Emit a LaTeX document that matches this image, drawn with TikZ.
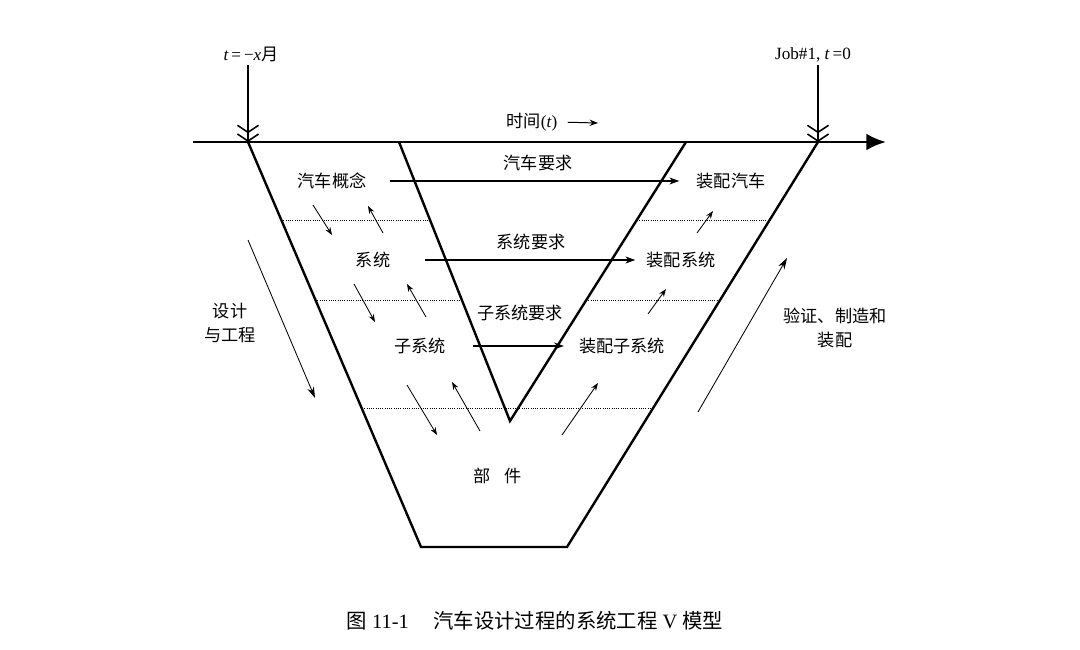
\documentclass[tikz,border=0pt]{standalone}
\usepackage{fontspec}
\setmainfont{Liberation Serif}
\newfontfamily\cjk{Noto Sans CJK SC}
\usetikzlibrary{arrows.meta}

\begin{document}
\begin{tikzpicture}[x=0.025cm, y=-0.025cm,
    every node/.style={inner sep=0pt, font=\fontsize{12.2}{17.5}\selectfont},
    vline/.style={line width=1.7pt, line join=miter},
    dotline/.style={densely dotted, line width=0.6pt},
    harr/.style={line width=0.8pt, -{Stealth[length=7pt,width=5pt]}},
    sarr/.style={line width=0.6pt, -{Stealth[length=5.5pt,width=4pt]}},
    barr/.style={line width=0.6pt, -{Stealth[length=8pt,width=5pt]}},
    dblarr/.style={line width=1.1pt, shorten <=2pt,
      -{Straight Barb[length=5pt,width=15pt]Straight Barb[length=5pt,width=15pt]}}]
  \useasboundingbox (0,0) rectangle (1080,650);
  % time axis and the two V outlines
  \coordinate (axL) at (193,142);
  \coordinate (axR) at (886,142);
  \coordinate (oL) at (248,142);
  \coordinate (oBL) at (421,547);
  \coordinate (oBR) at (567,547);
  \coordinate (oR) at (818,142);
  \coordinate (iL) at (399,142);
  \coordinate (iB) at (510,421);
  \coordinate (iR) at (686,142);
  \draw[line width=2pt, -{Latex[length=14pt,width=12pt]}] (axL) -- (axR);
  \draw[vline] (oL) -- (oBL) -- (oBR) -- (oR);
  \draw[vline] (iL) -- (iB) -- (iR);

  % level boundaries
  \draw[dotline] (281,220) -- (430,220);
  \draw[dotline] (637,220) -- (770,220);
  \draw[dotline] (315,300) -- (462,300);
  \draw[dotline] (586,300) -- (720,300);
  \draw[dotline] (362,408) -- (653,408);

  % milestones
  \node (tstart) at (251,54) {\textit{t}\,=\,−\textit{x}{\cjk 月}};
  \node (tjob) at (813,55) {Job\#1, \textit{t}\,=0};
  \draw[dblarr] (tstart.south -| oL) -- (oL);
  \draw[dblarr] (tjob.south -| oR) -- (oR);
  \node (time) at (532,122) {{\cjk 时间}(\textit{t})};
  \coordinate (timeend) at (598,123);
  \draw[line width=0.7pt, -{Stealth[length=6pt,width=4.5pt]}, shorten <=7pt] (time.east) -- (timeend);

  % left branch
  \node (car) at (332,181) {\cjk 汽车概念};
  \node (sys) at (373,260) {\cjk 系统};
  \node (sub) at (420,346) {\cjk 子系统};
  \node (part) at (498,476) {\cjk 部\hspace{0.8em}件};
  % right branch
  \node (acar) at (731,181) {\cjk 装配汽车};
  \node (asys) at (681,260) {\cjk 装配系统};
  \node (asub) at (622,346) {\cjk 装配子系统};
  % requirements
  \node (rcar) at (538,163) {\cjk 汽车要求};
  \node (rsys) at (531,242) {\cjk 系统要求};
  \node (rsub) at (520,313) {\cjk 子系统要求};
  \draw[harr, shorten <=0.575cm, shorten >=0.43cm] (car) -- (acar);
  \draw[harr, shorten <=0.875cm, shorten >=0.28cm] (sys) -- (asys);
  \draw[harr, shorten <=0.675cm, shorten >=0.375cm] (sub) -- (asub);

  % small arrows between levels
  \foreach \a/\b in {{313,205}/{332,235}, {354,284}/{375,322}, {407,385}/{437,435},
                     {383,233}/{368,206}, {426,317}/{407,284}, {480,431}/{452,382},
                     {697,233}/{713,211}, {648,314}/{666,289}, {562,435}/{598,383}}
    \draw[sarr] (\a) -- (\b);

  % side labels
  \node[align=center, font=\cjk\fontsize{12.2}{17.5}\selectfont] (design) at (230,323) {设计\\与工程};
  \node[align=center, font=\cjk\fontsize{12.2}{16.5}\selectfont] (verify) at (835,328) {验证、制造和\\装配};
  \coordinate (dtop) at (248,240);
  \coordinate (dbot) at (315,398);
  \coordinate (vbot) at (698,412);
  \coordinate (vtop) at (787,258);
  \draw[barr] (dtop) -- (dbot);
  \draw[barr] (vbot) -- (vtop);

  \node[font=\fontsize{14.5}{17}\selectfont] (caption) at (535,621)
    {{\cjk 图} 11-1\hspace{1.2em}{\cjk 汽车设计过程的系统工程} V {\cjk 模型}};
\end{tikzpicture}
\end{document}
